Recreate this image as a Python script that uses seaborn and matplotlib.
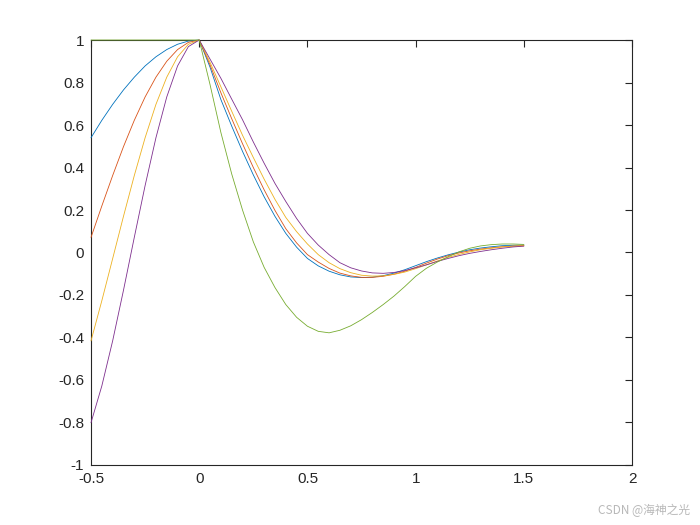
import numpy as np
import pandas as pd
import matplotlib
matplotlib.use("Agg")
import matplotlib.pyplot as plt
import seaborn as sns

# x positions
x_vals = [-0.5, -0.45, -0.4, -0.35, -0.3, -0.25, -0.2, -0.15, -0.1, -0.05,
          0.0, 0.05, 0.1, 0.15, 0.2, 0.25, 0.3, 0.35, 0.4, 0.45,
          0.5, 0.55, 0.6, 0.65, 0.7, 0.75, 0.8, 0.85, 0.9, 0.95,
          1.0, 1.05, 1.1, 1.15, 1.2, 1.25, 1.3, 1.35, 1.4, 1.45, 1.5]

blue = [0.540, 0.622, 0.697, 0.765, 0.825, 0.878, 0.921, 0.955, 0.980, 0.995,
        1.000, 0.872, 0.720, 0.595, 0.476, 0.365, 0.262, 0.170, 0.090, 0.025,
        -0.028, -0.063, -0.088, -0.105, -0.115, -0.118, -0.116, -0.109, -0.097, -0.081,
        -0.062, -0.043, -0.026, -0.011, 0.002, 0.013, 0.021, 0.027, 0.032, 0.034, 0.035]

red = [0.071, 0.219, 0.362, 0.498, 0.622, 0.732, 0.825, 0.900, 0.955, 0.989,
       1.000, 0.883, 0.752, 0.630, 0.512, 0.400, 0.295, 0.198, 0.112, 0.045,
       -0.010, -0.045, -0.075, -0.097, -0.110, -0.117, -0.117, -0.112, -0.102, -0.088,
       -0.070, -0.050, -0.031, -0.015, -0.002, 0.008, 0.016, 0.022, 0.027, 0.030, 0.032]

yellow = [-0.416, -0.227, -0.029, 0.170, 0.362, 0.540, 0.697, 0.825, 0.921, 0.980,
          1.000, 0.895, 0.780, 0.665, 0.552, 0.447, 0.345, 0.250, 0.165, 0.098,
          0.040, -0.010, -0.048, -0.076, -0.095, -0.107, -0.111, -0.110, -0.103, -0.092,
          -0.076, -0.058, -0.040, -0.023, -0.009, 0.003, 0.013, 0.020, 0.026, 0.030, 0.032]

purple = [-0.801, -0.628, -0.416, -0.178, 0.071, 0.315, 0.540, 0.732, 0.878, 0.969,
          1.000, 0.910, 0.820, 0.722, 0.625, 0.520, 0.420, 0.325, 0.240, 0.160,
          0.090, 0.035, -0.010, -0.048, -0.072, -0.087, -0.096, -0.098, -0.094, -0.085,
          -0.072, -0.058, -0.042, -0.028, -0.015, -0.004, 0.005, 0.013, 0.020, 0.026, 0.030]

green = [1.0, 1.0, 1.0, 1.0, 1.0, 1.0, 1.0, 1.0, 1.0, 1.0,
         1.000, 0.790, 0.565, 0.370, 0.200, 0.050, -0.070, -0.165, -0.245, -0.305,
         -0.347, -0.371, -0.378, -0.366, -0.345, -0.316, -0.282, -0.245, -0.205, -0.160,
         -0.112, -0.074, -0.045, -0.020, 0.003, 0.020, 0.031, 0.037, 0.040, 0.040, 0.038]

series_names = ["s1", "s2", "s3", "s4", "s5"]
series_values = [blue, red, yellow, purple, green]
colors = ["#0072BD", "#D95319", "#EDB120", "#7E2F8E", "#77AC30"]

x_ticks = [-0.5, 0, 0.5, 1, 1.5, 2]
x_tick_labels = ["-0.5", "0", "0.5", "1", "1.5", "2"]
y_ticks = [-1, -0.8, -0.6, -0.4, -0.2, 0, 0.2, 0.4, 0.6, 0.8, 1]
y_tick_labels = ["-1", "-0.8", "-0.6", "-0.4", "-0.2", "0", "0.2", "0.4", "0.6", "0.8", "1"]

rows = []
for name, vals in zip(series_names, series_values):
    for xv, yv in zip(x_vals, vals):
        rows.append({"x": xv, "y": yv, "series": name})
df = pd.DataFrame(rows)

sns.set_style("white")
plt.rcParams["font.family"] = ["Liberation Sans", "DejaVu Sans"]

fig = plt.figure(figsize=(7, 5.25), dpi=100)
ax = fig.add_axes([0.13, 0.1143, 0.773, 0.8095])

sns.lineplot(data=df, x="x", y="y", hue="series", hue_order=series_names,
             palette=colors, estimator=None, sort=False, linewidth=0.6,
             legend=False, ax=ax)
for ln in ax.get_lines():
    ln.set_clip_on(False)
    ln.set_zorder(3)

ax.set_xlim(-0.5, 2)
ax.set_ylim(-1, 1)
ax.set_xticks(x_ticks)
ax.set_xticklabels(x_tick_labels)
ax.set_yticks(y_ticks)
ax.set_yticklabels(y_tick_labels)
ax.set_xlabel("")
ax.set_ylabel("")
ax.tick_params(direction="in", length=5, width=0.8, top=True, right=True,
               labelsize=11, colors="#262626", pad=5)
for sp in ax.spines.values():
    sp.set_visible(True)
    sp.set_color("#262626")
    sp.set_linewidth(0.8)
    sp.set_zorder(2.5)

fig.text(0.986, 0.016, "CSDN @海神之光", ha="right", va="bottom", fontsize=8.5,
         color="#b8b8b8", family=["Noto Sans CJK SC", "DejaVu Sans"])

fig.savefig("out.png", dpi=100, facecolor="white")
